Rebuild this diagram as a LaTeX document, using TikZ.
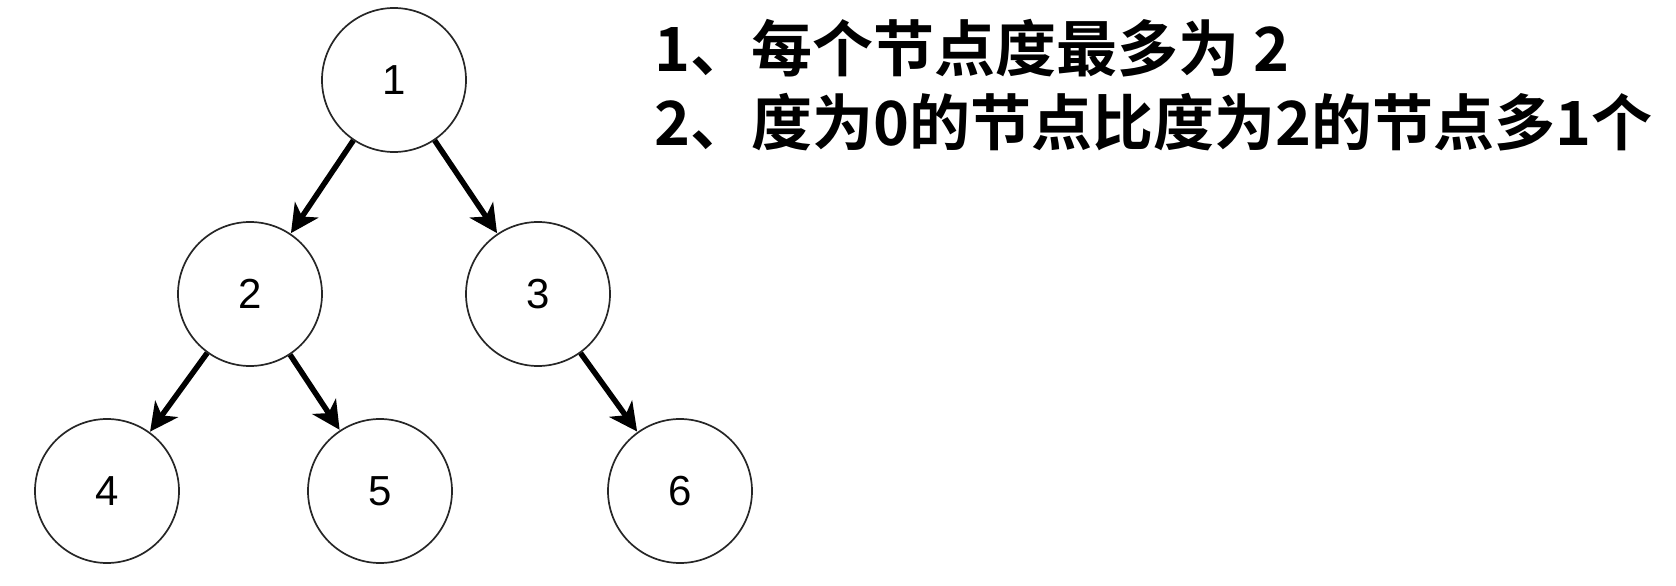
\documentclass[tikz,border=0pt]{standalone}
\usepackage{fontspec}
\setmainfont{Liberation Sans}
\newfontfamily\cjk{Noto Sans CJK SC Bold}
\usetikzlibrary{arrows.meta}
\begin{document}
\begin{tikzpicture}[x=1pt,y=-1pt,
  tnode/.style={circle,draw=black!85,line width=1.7pt,minimum size=144pt,inner sep=0pt,font=\fontsize{42}{46}\selectfont},
  treeedge/.style={line width=5.5pt,-{Stealth[length=28pt,width=28pt,inset=8pt]},shorten >=0.5pt},
  note/.style={anchor=base west,inner sep=0pt,font=\cjk\fontsize{61}{64}\selectfont}]
\useasboundingbox (0,0) rectangle (1676,586);
\node[tnode] (n1) at (394,80) {1};
\node[tnode] (n2) at (250,294) {2};
\node[tnode] (n3) at (538,294) {3};
\node[tnode] (n4) at (107,491) {4};
\node[tnode] (n5) at (380,491) {5};
\node[tnode] (n6) at (680,491) {6};
\draw[treeedge] (n1) -- (n2);
\draw[treeedge] (n1) -- (n3);
\draw[treeedge] (n2) -- (n4);
\draw[treeedge] (n2) -- (n5);
\draw[treeedge] (n3) -- (n6);
\node[note] (t1) at (654,72) {1、每个节点度最多为 2};
\node[note] (t2) at (654,145) {2、度为0的节点比度为2的节点多1个};
\end{tikzpicture}
\end{document}
